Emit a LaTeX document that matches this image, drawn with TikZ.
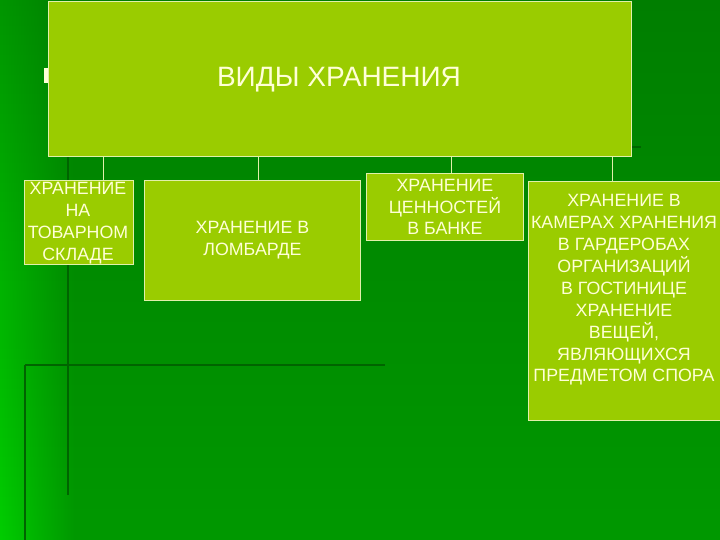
\documentclass[tikz,border=0pt]{standalone}
\usepackage{fontspec}
\setmainfont{Liberation Sans}
\usetikzlibrary{fadings}
\definecolor{bgtop}{RGB}{0,126,0}
\definecolor{bgbot}{RGB}{0,152,0}
\definecolor{bright}{RGB}{0,205,0}
\definecolor{brighttop}{RGB}{0,150,0}
\definecolor{deco}{RGB}{0,100,0}
\definecolor{boxfill}{RGB}{154,204,0}
\definecolor{boxline}{RGB}{225,240,170}
\definecolor{txt}{RGB}{255,255,215}
\tikzfading[name=myfaderight, left color=transparent!0, right color=transparent!100]
\begin{document}
\begin{tikzpicture}[x=1pt,y=-1pt,
  box/.style={draw=boxline, line width=0.9pt, fill=boxfill, inner sep=0pt, anchor=north west},
  lbl/.style={text=txt, font=\fontsize{17.8}{21.9}\selectfont, align=center, inner sep=0pt},
  conn/.style={draw=boxline, line width=0.9pt},
  decoline/.style={draw=deco, line width=2.2pt}]
\useasboundingbox (0,0) rectangle (720,540);
\clip (0,0) rectangle (720,540);
% background
\shade[top color=bgtop, bottom color=bgbot] (0,0) rectangle (720,540);
\shade[top color=brighttop, bottom color=bright, path fading=myfaderight] (0,0) rectangle (75,540);
% decorative lines
\draw[decoline] (68,150) -- (68,495);
\draw[decoline] (25,365) -- (385,365);
\draw[decoline] (25,365) -- (25,540);
\draw[decoline] (631,147) -- (641,147);
% bullet
\fill[txt] (44,68) rectangle (50,83);
% boxes
\node[box, minimum width=583pt, minimum height=155pt] (main) at (48,1) {};
\node[lbl, font=\fontsize{28}{31}\selectfont] (maint) at (339,80) {ВИДЫ ХРАНЕНИЯ};
\node[box, minimum width=109pt, minimum height=84pt] (b1) at (24,180) {};
\node[box, minimum width=216pt, minimum height=120pt] (b2) at (144,180) {};
\node[box, minimum width=157pt, minimum height=67pt] (b3) at (366,173) {};
\node[box, minimum width=196pt, minimum height=239pt] (b4) at (528,181) {};
\node[lbl] (t1) at (78,223) {ХРАНЕНИЕ\\НА\\ТОВАРНОМ\\СКЛАДЕ};
\node[lbl] (t2) at (b2.center) {ХРАНЕНИЕ В\\ЛОМБАРДЕ};
\node[lbl] (t3) at (b3.center) {ХРАНЕНИЕ\\ЦЕННОСТЕЙ\\В БАНКЕ};
\node[lbl] (t4) at (624,290) {ХРАНЕНИЕ В\\КАМЕРАХ ХРАНЕНИЯ\\В ГАРДЕРОБАХ\\ОРГАНИЗАЦИЙ\\В ГОСТИНИЦЕ\\ХРАНЕНИЕ\\ВЕЩЕЙ,\\ЯВЛЯЮЩИХСЯ\\ПРЕДМЕТОМ СПОРА};
% connectors
\coordinate (k1) at (103,0);
\coordinate (k2) at (258,0);
\coordinate (k3) at (451,0);
\coordinate (k4) at (612,0);
\draw[conn] (main.south -| k1) -- (b1.north -| k1);
\draw[conn] (main.south -| k2) -- (b2.north -| k2);
\draw[conn] (main.south -| k3) -- (b3.north -| k3);
\draw[conn] (main.south -| k4) -- (b4.north -| k4);
\end{tikzpicture}
\end{document}
